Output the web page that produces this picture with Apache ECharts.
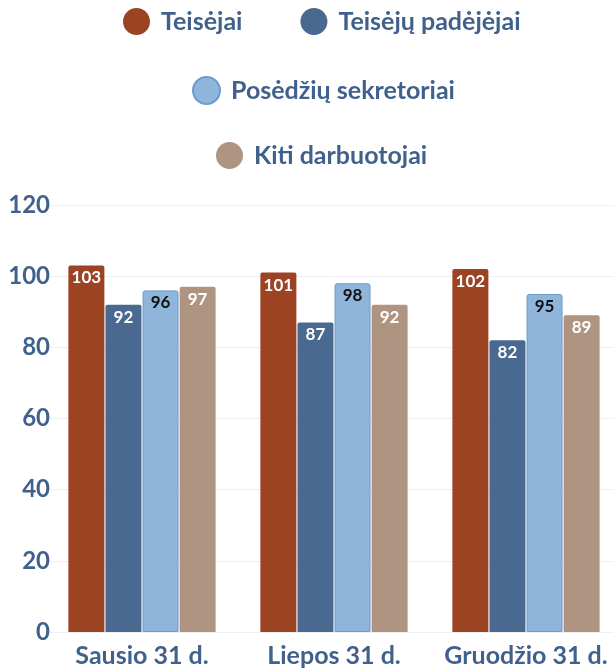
<!DOCTYPE html>
<html>
<head>
<meta charset="utf-8">
<script src="https://cdn.jsdelivr.net/npm/echarts@6/dist/echarts.min.js"></script>
<style>
  html, body { margin: 0; padding: 0; background: #fff; }
  #chart { width: 614px; height: 672px; }
</style>
</head>
<body>
<div id="chart"></div>
<script>
const categories = ['Sausio 31 d.', 'Liepos 31 d.', 'Gruodžio 31 d.'];
const seriesNames = ['Teisėjai', 'Teisėjų padėjėjai', 'Posėdžių sekretoriai', 'Kiti darbuotojai'];
const teisejai = [103, 101, 102];
const padejejai = [92, 87, 82];
const sekretoriai = [96, 98, 95];
const kiti = [97, 92, 89];
const yTicks = [0, 20, 40, 60, 80, 100, 120];

const textColor = '#41618d';
const font = 'Lato';

const chart = echarts.init(document.getElementById('chart'));

function legendRow(names, left, top) {
  return {
    data: names,
    left: left,
    top: top,
    padding: 0,
    icon: 'circle',
    itemWidth: 27,
    itemHeight: 27,
    itemGap: 58,
    textStyle: {
      color: textColor,
      fontFamily: font,
      fontWeight: 'bold',
      fontSize: 25,
      padding: [0, 0, 0, 6]
    }
  };
}

function barSeries(name, data, color, labelColor, border) {
  return {
    name: name,
    type: 'bar',
    data: data,
    barWidth: 36,
    barGap: '3%',
    itemStyle: {
      color: color,
      borderRadius: [2, 2, 0, 0],
      borderColor: border || color,
      borderWidth: border ? 1 : 0
    },
    label: {
      show: true,
      position: 'insideTop',
      distance: 4,
      color: labelColor,
      fontFamily: font,
      fontWeight: 'bold',
      fontSize: 17
    }
  };
}

chart.setOption({
  animation: false,
  backgroundColor: '#ffffff',
  legend: [
    legendRow([seriesNames[0], seriesNames[1]], 123, 8),
    legendRow([seriesNames[2]], 192, 76),
    legendRow([seriesNames[3]], 216, 142)
  ],
  grid: {
    left: 46,
    top: 205,
    width: 576,
    bottom: 40,
    outerBoundsMode: 'none'
  },
  xAxis: {
    type: 'category',
    data: categories,
    axisLine: { show: false },
    axisTick: { show: false },
    axisLabel: {
      interval: 0,
      margin: 11,
      color: textColor,
      fontFamily: font,
      fontWeight: 'bold',
      fontSize: 25
    }
  },
  yAxis: {
    type: 'value',
    min: yTicks[0],
    max: yTicks[yTicks.length - 1],
    interval: 20,
    axisLine: { show: false },
    axisTick: { show: false },
    splitLine: { lineStyle: { color: '#eef0f3', width: 1 } },
    axisLabel: {
      margin: -4,
      color: textColor,
      fontFamily: font,
      fontWeight: 'bold',
      fontSize: 24
    }
  },
  series: [
    barSeries(seriesNames[0], teisejai, '#9b4323', '#ffffff'),
    barSeries(seriesNames[1], padejejai, '#4a6991', '#ffffff'),
    barSeries(seriesNames[2], sekretoriai, '#8fb5db', '#111111', '#6e9ccc'),
    barSeries(seriesNames[3], kiti, '#b09482', '#ffffff')
  ]
});
</script>
</body>
</html>
